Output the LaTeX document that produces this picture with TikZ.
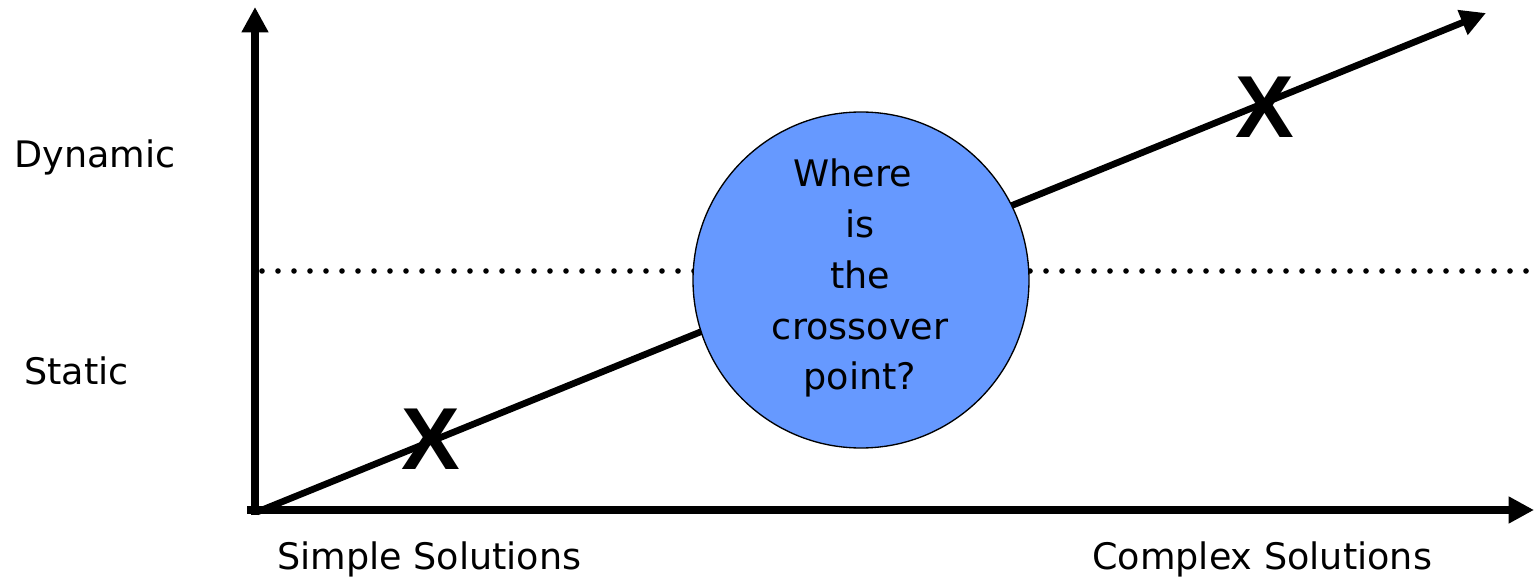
\documentclass[tikz,border=0pt]{standalone}
\usepackage{fontspec}
\setmainfont{DejaVu Sans}
\newfontfamily\xfont{Liberation Sans}
\usetikzlibrary{arrows.meta}
\definecolor{bubble}{HTML}{6699FF}
\tikzset{
  axisline/.style={line width=5.5pt, -{Triangle[length=19pt,width=19pt]}},
  diagline/.style={line width=5pt, -{Triangle[length=19pt,width=19pt]}},
  dotline/.style={line width=4.2pt, line cap=round, dash pattern=on 0pt off 12pt},
  lbl/.style={font=\fontsize{27.4pt}{38pt}\selectfont, inner sep=0pt, anchor=base west},
  xmark/.style={font=\xfont\bfseries\fontsize{66pt}{66pt}\selectfont, inner sep=0pt, anchor=center},
}
\begin{document}
\begin{tikzpicture}[x=0.75pt,y=-0.75pt]
\useasboundingbox (0,0) rectangle (1534,580);
\coordinate (o) at (255,510);
\coordinate (xs) at (247,510);
\coordinate (xt) at (1534,510);
\coordinate (yb) at (255,515);
\coordinate (yt) at (255,7);
\coordinate (ds) at (257,512);
\coordinate (dt) at (1486,13);
\coordinate (ls) at (262,271);
\coordinate (le) at (1534,271);
% dotted line
\draw[dotline] (ls) -- (le);
% axes
\draw[axisline] (yb) -- (yt);
\draw[axisline] (xs) -- (xt);
% diagonal
\draw[diagline] (ds) -- (dt);
% circle
\node[circle, draw=black, line width=1pt, fill=bubble, minimum size=336*0.75pt, inner sep=0pt] (c) at (861,280) {};
\node[font=\fontsize{27.4pt}{38pt}\selectfont, align=center, inner sep=0pt, anchor=base] (q) at (860,390)
  {\hspace*{-0.4em}Where\\[0.2pt]is\\[0.2pt]the\\[0.2pt]crossover\\[0.2pt]point?};
% X marks
\node[xmark] (x1) at (431,439) {X};
\node[xmark] (x2) at (1265,107) {X};
% labels
\node[lbl] (dyn) at (14,168) {Dynamic};
\node[lbl] (sta) at (24,385) {Static};
\node[lbl] (sim) at (277,569) {Simple Solutions};
\node[lbl] (com) at (1092,569) {Complex Solutions};
\end{tikzpicture}
\end{document}
